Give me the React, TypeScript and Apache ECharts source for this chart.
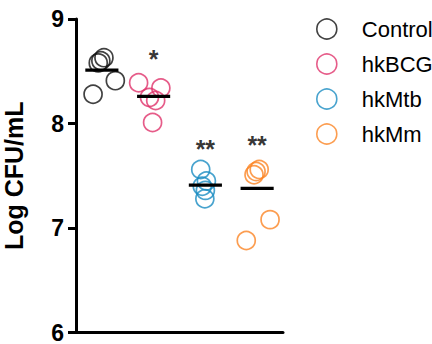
import React, { useEffect, useRef } from "react";
import * as echarts from "echarts";

// Group names and colours
const groups = ["Control", "hkBCG", "hkMtb", "hkMm"];
const groupColors = ["#111111", "#e0336c", "#1a8cc2", "#fb8424"];

// Log CFU/mL per replicate
const controlValues = [8.28, 8.58, 8.6, 8.63, 8.41];
const hkBCGValues = [8.39, 8.34, 8.25, 8.22, 8.01];
const hkMtbValues = [7.56, 7.45, 7.4, 7.36, 7.28];
const hkMmValues = [7.56, 7.54, 7.51, 6.88, 7.08];

// Horizontal jitter of each replicate around its group position
const controlJitter = [-0.17, -0.07, -0.02, 0.04, 0.26];
const hkBCGJitter = [-0.29, 0.14, -0.08, 0.04, -0.02];
const hkMtbJitter = [-0.09, 0.02, -0.06, 0.0, -0.01];
const hkMmJitter = [0.04, -0.02, -0.06, -0.21, 0.25];

// Group means drawn as bars
const meanValues = [8.51, 8.26, 7.41, 7.38];

// Significance marks over groups
const sigLabels = ["", "*", "**", "**"];
const sigHeights = [0, 8.62, 7.76, 7.79];

const yTicks = [6, 7, 8, 9];

const allValues = [controlValues, hkBCGValues, hkMtbValues, hkMmValues];
const allJitter = [controlJitter, hkBCGJitter, hkMtbJitter, hkMmJitter];

const FONT = "'Liberation Sans', Arial, Helvetica, sans-serif";

export default function App() {
  const ref = useRef<HTMLDivElement>(null);

  useEffect(() => {
    document.body.style.margin = "0";
    if (!ref.current) return;
    const chart = echarts.init(ref.current, undefined, { renderer: "svg" });

    const scatterSeries = groups.map((name, gi) => ({
      type: "scatter",
      name,
      symbol: "circle",
      symbolSize: 18,
      itemStyle: {
        color: "rgba(255,255,255,0)",
        borderColor: groupColors[gi],
        borderWidth: 1.7,
      },
      z: 3,
      data: allValues[gi].map((v, i) => [gi + 1 + allJitter[gi][i], v]),
    }));

    const meanSeries = {
      type: "custom",
      name: "mean",
      z: 5,
      renderItem: (_params: any, api: any) => {
        const x = api.value(0);
        const y = api.value(1);
        const a = api.coord([x - 0.32, y]);
        const b = api.coord([x + 0.32, y]);
        return {
          type: "line",
          shape: { x1: a[0], y1: a[1], x2: b[0], y2: b[1] },
          style: { stroke: "#000", lineWidth: 3.2 },
        };
      },
      data: meanValues.map((m, i) => [i + 1, m]),
    };

    const sigSeries = {
      type: "scatter",
      name: "sig",
      symbolSize: 0,
      silent: true,
      label: {
        show: true,
        position: "inside",
        formatter: (p: any) => sigLabels[p.dataIndex],
        color: "#000",
        textBorderWidth: 0,
        fontFamily: FONT,
        fontWeight: "bold",
        fontSize: 25,
      },
      data: sigHeights.map((h, i) => (sigLabels[i] ? [i + 1, h] : [i + 1, null])),
    };

    chart.setOption({
      animation: false,
      backgroundColor: "#ffffff",
      grid: { left: 71, right: 149, top: 19, bottom: 11, containLabel: false },
      legend: {
        orient: "vertical",
        left: 311,
        top: 13,
        itemWidth: 20,
        itemHeight: 20,
        itemGap: 13,
        selectedMode: false,
        textStyle: {
          fontFamily: FONT,
          fontSize: 22,
          color: "#000",
          padding: [0, 0, 0, 20],
        },
        data: groups.map((name, gi) => ({
          name,
          icon: "circle",
          itemStyle: {
            color: "rgba(255,255,255,0)",
            borderColor: groupColors[gi],
            borderWidth: 1.6,
          },
        })),
      },
      xAxis: {
        type: "value",
        min: 0.5,
        max: 4.5,
        axisLine: { show: true, onZero: false, lineStyle: { color: "#000", width: 3 } },
        axisTick: { show: false },
        axisLabel: { show: false },
        splitLine: { show: false },
      },
      yAxis: {
        type: "value",
        min: yTicks[0],
        max: yTicks[yTicks.length - 1],
        interval: 1,
        name: "Log CFU/mL",
        nameLocation: "middle",
        nameGap: 50,
        nameTextStyle: { fontFamily: FONT, fontWeight: "bold", fontSize: 25, color: "#000" },
        axisLine: { show: true, lineStyle: { color: "#000", width: 3 } },
        axisTick: { show: true, length: 8, lineStyle: { color: "#000", width: 3 } },
        axisLabel: {
          margin: 12,
          fontFamily: FONT,
          fontWeight: "bold",
          fontSize: 23,
          color: "#000",
        },
        splitLine: { show: false },
      },
      series: [...scatterSeries, meanSeries, sigSeries],
    });

    return () => chart.dispose();
  }, []);

  return <div ref={ref} style={{ width: 432, height: 344 }} />;
}
